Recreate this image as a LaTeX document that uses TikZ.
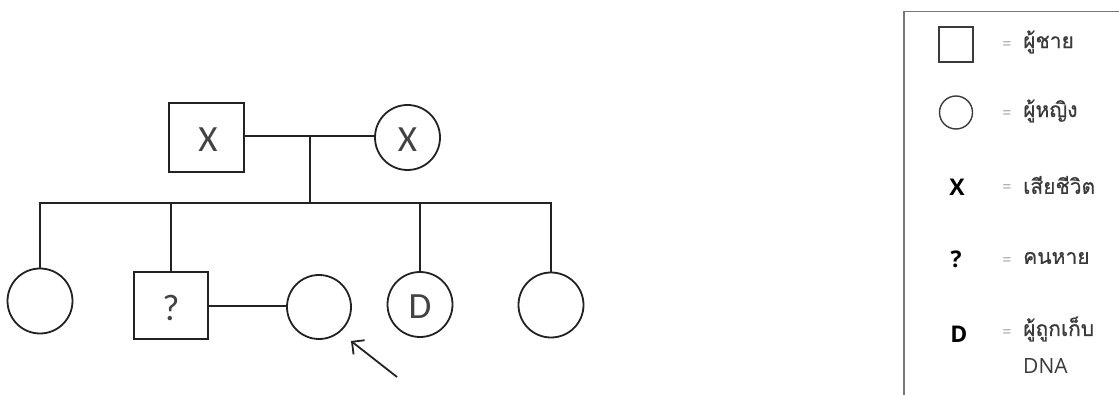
\documentclass[tikz,border=0pt]{standalone}
\usepackage{fontspec}
\setmainfont{Carlito}
\newfontfamily\thaifont[Script=Thai,UprightFeatures={FakeBold=0.6}]{Loma}
\newfontfamily\legfont{Open Sans}
\usetikzlibrary{arrows.meta}
\definecolor{ink}{HTML}{222222}
\definecolor{boxgray}{HTML}{777777}
\definecolor{eqgray}{HTML}{A0A0A0}
\definecolor{legtext}{HTML}{3A3A3A}
\tikzset{
  ped/.style={line width=1.8pt, draw=ink},
  male/.style={ped, rectangle, inner sep=0pt, fill=white},
  female/.style={ped, circle, inner sep=0pt, minimum size=65pt, fill=white},
  pedlabel/.style={font=\fontsize{37}{37}\selectfont, text=ink!85},
  legsym/.style={line width=1.4pt, draw=legtext, inner sep=0pt},
  legmark/.style={font=\legfont\bfseries\fontsize{23}{23}\selectfont, text=black},
  legeq/.style={font=\legfont\fontsize{16}{16}\selectfont, text=eqgray},
  legtxt/.style={anchor=west, font=\thaifont\fontsize{21}{21}\selectfont, text=legtext, inner sep=0pt},
  pointer/.style={line width=1.8pt, draw=ink, -{Straight Barb[length=9pt,width=18pt,line width=1.8pt]}}
}
\begin{document}
\begin{tikzpicture}[x=1pt,y=-1pt]
\useasboundingbox (0,0) rectangle (1119,395);
% generation I
\node[male, minimum width=75pt, minimum height=69pt] (F) at (206.5,137.5) {};
\node[pedlabel] (Fx) at (208,139.5) {X};
\node[female] (M) at (407.5,137.5) {};
\node[pedlabel] (Mx) at (407.5,139.5) {X};
\draw[ped] (F.east |- 0,136) coordinate (fe) -- (M.west |- 0,136) coordinate (mw);
\coordinate (mid) at (310,136);
\coordinate (sib) at (310,203);
\draw[ped] (mid) -- (sib);
% generation II
\node[female] (C1) at (40,301) {};
\node[male, minimum width=74pt, minimum height=67pt] (C2) at (171,305.5) {};
\node[pedlabel] (C2q) at (171,307.5) {?};
\node[female, minimum size=64pt] (S) at (319,307) {};
\node[female] (C3) at (420,304.5) {};
\node[pedlabel] (C3d) at (420,307) {D};
\node[female] (C4) at (551,305) {};
\coordinate (sl) at (40,203);
\coordinate (sr) at (551,203);
\draw[ped, line cap=rect] (C1.north) -- (sl) -- (sr) -- (C4.north);
\draw[ped] (C2.north) -- (C2.north |- sl);
\draw[ped] (C3.north) -- (C3.north |- sl);
\draw[ped] (C2.east |- 0,306) -- (S.west |- 0,306);
% proband arrow
\coordinate (atail) at (397,377);
\coordinate (ahead) at (351,341);
\draw[pointer] (atail) -- (ahead);
% legend frame
\draw[line width=1.8pt, draw=boxgray] (1125,11.5) -| (904,400);
\node[legsym, minimum width=34pt, minimum height=35pt] (Lsq) at (956,44.5) {};
\node[legsym, circle, minimum size=33pt] (Lci) at (956,112.5) {};
\node[legmark] (Lx) at (957,187) {X};
\node[legmark] (Lq) at (956,259) {?};
\node[legmark] (Ld) at (959,334) {D};
\node[legeq] (E1) at (1007,46) {=};
\node[legeq] (E2) at (1007,115) {=};
\node[legeq] (E3) at (1007,189) {=};
\node[legeq] (E4) at (1007,262) {=};
\node[legeq] (E5) at (1007,334) {=};
\node[legtxt] (T1) at (1023,42) {ผู้ชาย};
\node[legtxt] (T2) at (1023,111) {ผู้หญิง};
\node[legtxt] (T3) at (1023,185) {เสียชีวิต};
\node[legtxt] (T4) at (1023,258) {คนหาย};
\node[legtxt] (T5) at (1023,329) {ผู้ถูกเก็บ};
\node[legtxt, font=\legfont\fontsize{21}{21}\selectfont] (T6) at (1023,366) {DNA};
\end{tikzpicture}
\end{document}
